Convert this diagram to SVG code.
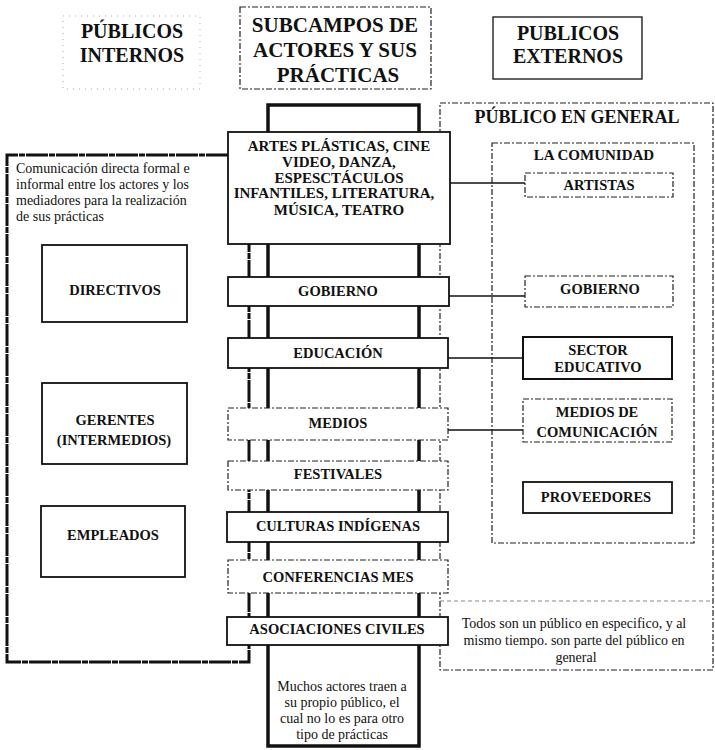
<svg xmlns="http://www.w3.org/2000/svg" width="715" height="750" viewBox="0 0 715 750">
<style>
.solid{fill:#fff;stroke:#111;stroke-width:1.8}
.dash{fill:#fff;stroke:#222;stroke-width:1.2;stroke-dasharray:6 2 2 2}
.frame{fill:none;stroke:#222;stroke-width:1.2;stroke-dasharray:6 2 2 2}
.faint{fill:none;stroke:#aaa;stroke-width:1;stroke-dasharray:1 5}
.thick{fill:none;stroke:#111;stroke-width:3.5}
.rough{fill:none;stroke:#111;stroke-width:3;stroke-dasharray:22 1 6 1}
.conn{fill:none;stroke:#111;stroke-width:1.5}
text{font-family:"Liberation Serif","Times New Roman",serif;fill:#111}
.lbl{font-weight:bold;font-size:14.5px;text-anchor:middle}
.art{font-weight:bold;font-size:15px;text-anchor:middle}
.head{font-weight:bold;font-size:20px;text-anchor:middle}
.sub{font-weight:bold;font-size:21px;text-anchor:middle}
.body{font-size:14px}
.bodyc{font-size:14px;text-anchor:middle}
</style>

<!-- background frames -->
<g id="publico-general">
  <rect class="frame" x="440" y="103" width="273" height="567"/>
  <text class="sub" x="577" y="123" style="font-size:18px">PÚBLICO EN GENERAL</text>
  <line x1="440" y1="601" x2="713" y2="601" stroke="#888" stroke-width="1" stroke-dasharray="4 3"/>
  <text class="bodyc" x="574" y="628">Todos son un público en especifico, y al</text>
  <text class="bodyc" x="574" y="645">mismo tiempo. son parte del público en</text>
  <text class="bodyc" x="576" y="662">general</text>
</g>
<g id="la-comunidad">
  <rect class="frame" x="492" y="143" width="202" height="400"/>
  <text class="lbl" x="594" y="160" style="font-size:15px">LA COMUNIDAD</text>
</g>

<g id="publicos-internos-frame">
  <rect class="faint" x="63" y="16" width="137" height="73"/>
  <text class="head" x="132" y="38">PÚBLICOS</text>
  <text class="head" x="132" y="62">INTERNOS</text>
</g>
<g id="subcampos">
  <rect class="frame" x="240" y="7" width="191" height="82"/>
  <text class="sub" x="335" y="32">SUBCAMPOS DE</text>
  <text class="sub" x="335" y="57">ACTORES Y SUS</text>
  <text class="sub" x="338" y="82">PRÁCTICAS</text>
</g>
<g id="publicos-externos">
  <rect x="493" y="17" width="149" height="62" fill="#fff" stroke="#111" stroke-width="1.3"/>
  <text class="head" x="568" y="40">PUBLICOS</text>
  <text class="head" x="568" y="63">EXTERNOS</text>
</g>

<!-- connectors / frames of the columns -->
<g id="connectors">
  <path class="rough" d="M228,155 H7 V662 H249 V244"/>
  <path class="thick" d="M268,746 V105 H419 V746 Z"/>
  <line class="conn" x1="450" y1="183" x2="525" y2="183"/>
  <line class="conn" x1="449" y1="296" x2="525" y2="296"/>
  <line class="conn" x1="448" y1="358" x2="523" y2="358"/>
  <line class="conn" x1="448" y1="430" x2="523" y2="430"/>
</g>

<g id="comunicacion-nota">
  <text class="body" x="16" y="173">Comunicación directa formal e</text>
  <text class="body" x="16" y="189">informal entre los actores y los</text>
  <text class="body" x="16" y="205">mediadores para la realización</text>
  <text class="body" x="16" y="221">de sus prácticas</text>
</g>

<!-- central column -->
<g id="artes">
  <rect class="solid" x="228" y="132" width="222" height="112"/>
  <text class="art" x="339" y="151">ARTES PLÁSTICAS, CINE</text>
  <text class="art" x="339" y="167">VIDEO, DANZA,</text>
  <text class="art" x="339" y="183">ESPESCTÁCULOS</text>
  <text class="art" x="334" y="198">INFANTILES, LITERATURA,</text>
  <text class="art" x="339" y="215">MÚSICA, TEATRO</text>
</g>
<g id="gobierno-c">
  <rect class="solid" x="228" y="277" width="221" height="29"/>
  <text class="lbl" x="338" y="296">GOBIERNO</text>
</g>
<g id="educacion">
  <rect class="solid" x="228" y="338" width="220" height="30"/>
  <text class="lbl" x="338" y="358">EDUCACIÓN</text>
</g>
<g id="medios-c">
  <rect class="dash" x="228" y="408" width="220" height="32"/>
  <text class="lbl" x="338" y="428">MEDIOS</text>
</g>
<g id="festivales">
  <rect class="dash" x="228" y="461" width="220" height="29"/>
  <text class="lbl" x="338" y="479">FESTIVALES</text>
</g>
<g id="culturas">
  <rect class="solid" x="227" y="512" width="221" height="30"/>
  <text class="lbl" x="338" y="531">CULTURAS INDÍGENAS</text>
</g>
<g id="conferencias">
  <rect class="dash" x="228" y="560" width="220" height="33"/>
  <text class="lbl" x="338" y="582">CONFERENCIAS MES</text>
</g>
<g id="asociaciones">
  <rect class="solid" x="227" y="617" width="221" height="28"/>
  <text class="lbl" x="337" y="634">ASOCIACIONES CIVILES</text>
</g>
<g id="muchos-actores">
  <text class="bodyc" x="342" y="691">Muchos actores traen a</text>
  <text class="bodyc" x="342" y="707">su propio público, el</text>
  <text class="bodyc" x="342" y="723">cual no lo es para otro</text>
  <text class="bodyc" x="342" y="739">tipo de prácticas</text>
</g>

<!-- external publics -->
<g id="artistas">
  <rect class="dash" x="525" y="173" width="148" height="24"/>
  <text class="lbl" x="599" y="190">ARTISTAS</text>
</g>
<g id="gobierno-e">
  <rect class="dash" x="525" y="276" width="148" height="31"/>
  <text class="lbl" x="600" y="294">GOBIERNO</text>
</g>
<g id="sector-educativo">
  <rect class="solid" x="523" y="337" width="149" height="42" style="stroke-width:2"/>
  <text class="lbl" x="598" y="355">SECTOR</text>
  <text class="lbl" x="598" y="372">EDUCATIVO</text>
</g>
<g id="medios-comunicacion">
  <rect class="dash" x="523" y="399" width="149" height="43"/>
  <text class="lbl" x="597" y="417">MEDIOS DE</text>
  <text class="lbl" x="597" y="437">COMUNICACIÓN</text>
</g>
<g id="proveedores">
  <rect class="solid" x="523" y="482" width="149" height="31"/>
  <text class="lbl" x="596" y="502">PROVEEDORES</text>
</g>

<!-- internal publics -->
<g id="directivos">
  <rect class="solid" x="42" y="245" width="145" height="77"/>
  <text class="lbl" x="115" y="295">DIRECTIVOS</text>
</g>
<g id="gerentes">
  <rect class="solid" x="42" y="383" width="145" height="81"/>
  <text class="lbl" x="115" y="425">GERENTES</text>
  <text class="lbl" x="114" y="445">(INTERMEDIOS)</text>
</g>
<g id="empleados">
  <rect class="solid" x="41" y="506" width="144" height="71"/>
  <text class="lbl" x="113" y="540">EMPLEADOS</text>
</g>
</svg>
